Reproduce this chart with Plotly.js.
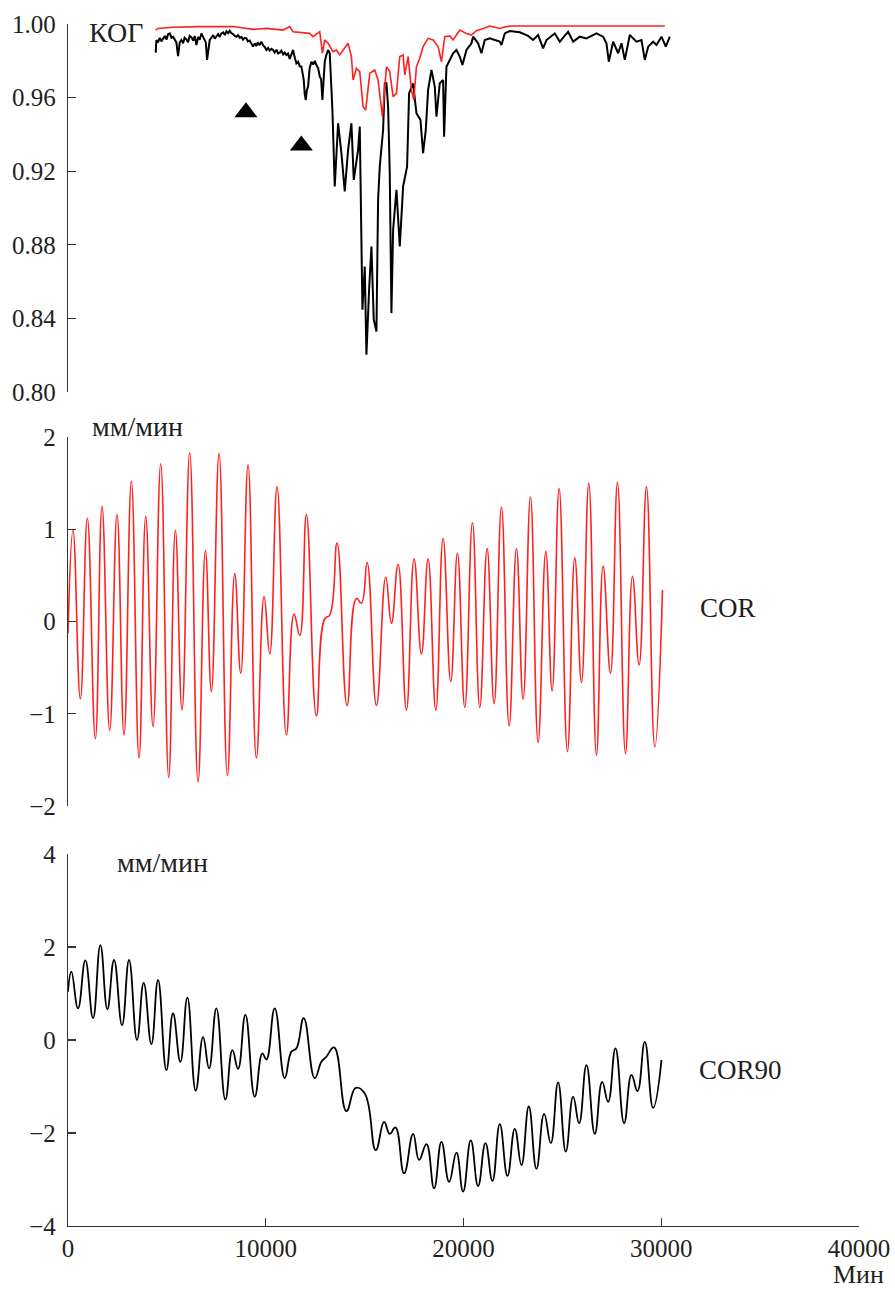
<!DOCTYPE html>
<html><head><meta charset="utf-8">
<script src="https://cdn.plot.ly/plotly-3.0.1.min.js"></script>
<style>html,body{margin:0;padding:0;background:#fff}#chart{width:895px;height:1290px}</style>
</head><body><div id="chart"></div>
<script>
// Top panel (КОГ): black curve
const kogBlackT = [4435,4469,4550,4640,4720,4806,4900,4980,5060,5144,5230,5312,5400,5480,5565,5650,5734,5820,5900,5987,6070,6150,6240,6330,6410,6492,6580,6660,6745,6830,6914,6970,7032,7100,7167,7250,7340,7420,7504,7590,7670,7757,7850,7930,8010,8100,8178,8260,8350,8430,8516,8600,8690,8770,8850,8940,9021,9100,9190,9270,9359,9440,9520,9600,9690,9780,9860,9950,10033,10120,10200,10290,10370,10450,10540,10620,10707,10790,10880,10960,11045,11130,11210,11300,11382,11460,11550,11640,11720,11803,11860,11921,11970,12022,12080,12141,12220,12309,12400,12480,12562,12650,12731,12800,12865,12930,12984,13060,13152,13236,13300,13371,13489,13658,13827,13995,14164,14332,14450,14670,14754,14889,15007,15091,15226,15344,15462,15597,15681,15765,15934,16018,16103,16187,16271,16356,16440,16609,16777,16946,17148,17249,17452,17620,17823,17957,18092,18210,18379,18548,18632,18800,18969,19019,19137,19306,19474,19643,19812,19946,20149,20402,20486,20739,20908,21076,21329,21582,21835,21919,22088,22341,22846,23268,23521,23774,24027,24195,24617,24870,25291,25544,25881,26218,26724,27061,27230,27348,27567,27820,27989,28157,28410,28747,29000,29169,29338,29590,29759,30012,30231,30433];
const kogBlackV = [0.9844,0.9913,0.9900,0.9925,0.9905,0.9922,0.9935,0.9915,0.9945,0.9949,0.9925,0.9931,0.9910,0.9900,0.9826,0.9900,0.9913,0.9895,0.9925,0.9917,0.9900,0.9935,0.9928,0.9910,0.9935,0.9886,0.9930,0.9915,0.9949,0.9930,0.9913,0.9900,0.9805,0.9880,0.9913,0.9925,0.9940,0.9920,0.9931,0.9945,0.9930,0.9949,0.9955,0.9940,0.9960,0.9950,0.9964,0.9950,0.9945,0.9935,0.9931,0.9940,0.9925,0.9930,0.9915,0.9925,0.9922,0.9905,0.9910,0.9890,0.9877,0.9895,0.9880,0.9900,0.9885,0.9904,0.9885,0.9875,0.9859,0.9870,0.9855,0.9865,0.9859,0.9845,0.9860,0.9840,0.9844,0.9855,0.9835,0.9845,0.9832,0.9840,0.9810,0.9835,0.9859,0.9820,0.9786,0.9795,0.9770,0.9768,0.9740,0.9696,0.9620,0.9587,0.9640,0.9660,0.9760,0.9795,0.9780,0.9800,0.9777,0.9760,0.9714,0.9700,0.9587,0.9720,0.9795,0.9830,0.9859,0.9841,0.9700,0.9533,0.9117,0.9461,0.9298,0.9090,0.9316,0.9461,0.9153,0.9316,0.9443,0.8447,0.8682,0.8203,0.8556,0.8791,0.8393,0.8329,0.9044,0.9225,0.9424,0.9678,0.9678,0.9551,0.9189,0.8429,0.8881,0.9099,0.8791,0.9117,0.9225,0.9624,0.9678,0.9515,0.9479,0.9298,0.9424,0.9642,0.9750,0.9660,0.9497,0.9678,0.9696,0.9388,0.9768,0.9805,0.9841,0.9859,0.9823,0.9777,0.9859,0.9895,0.9931,0.9895,0.9841,0.9913,0.9922,0.9913,0.9904,0.9886,0.9949,0.9962,0.9955,0.9935,0.9913,0.9940,0.9868,0.9913,0.9949,0.9904,0.9958,0.9904,0.9931,0.9922,0.9949,0.9931,0.9895,0.9795,0.9904,0.9841,0.9895,0.9805,0.9940,0.9904,0.9913,0.9805,0.9877,0.9904,0.9886,0.9931,0.9877,0.9931];
// Top panel (КОГ): red curve
const kogRedT = [4435,4553,5312,6661,8347,9359,10033,10876,11213,11382,12225,12393,12731,12865,12984,13152,13405,13574,13742,13995,14164,14332,14417,14585,14754,14923,15057,15260,15512,15681,15900,16103,16271,16440,16609,16777,16946,17030,17199,17367,17485,17620,17789,17957,18210,18463,18716,18885,19053,19306,19474,19812,20149,20402,20655,20992,21329,21835,22172,22425,30180];
const kogRedV = [0.9967,0.9976,0.9982,0.9986,0.9986,0.9971,0.9976,0.9967,0.9986,0.9958,0.9949,0.9931,0.9958,0.9841,0.9913,0.9895,0.9850,0.9859,0.9832,0.9868,0.9895,0.9823,0.9696,0.9759,0.9741,0.9551,0.9533,0.9732,0.9750,0.9696,0.9497,0.9768,0.9741,0.9605,0.9623,0.9823,0.9832,0.9723,0.9823,0.9642,0.9587,0.9768,0.9814,0.9877,0.9922,0.9913,0.9877,0.9795,0.9931,0.9935,0.9913,0.9967,0.9949,0.9940,0.9964,0.9976,0.9989,0.9976,0.9986,0.9989,0.9989];
// Triangle markers
const triT = [9000, 11800];
const triV = [0.952, 0.934];

// Middle panel COR (extrema)
const corT = [0,254,625,979,1384,1721,2109,2480,2834,3205,3592,3930,4301,4688,5093,5430,5767,6155,6577,6948,7251,7639,8060,8431,8735,9106,9527,9915,10202,10573,11045,11432,11719,12056,12562,12984,13236,13607,14113,14585,14838,15125,15597,16069,16356,16693,17114,17502,17873,18210,18598,18969,19356,19694,20065,20452,20823,21194,21548,21919,22307,22678,23015,23386,23774,24161,24482,24836,25257,25628,25966,26336,26724,27061,27432,27786,28191,28545,28882,29253,29675,30062];
const corV = [-0.13,0.99,-0.84,1.12,-1.27,1.25,-1.18,1.16,-1.23,1.52,-1.48,1.14,-1.14,1.71,-1.69,0.99,-0.96,1.83,-1.74,0.77,-0.76,1.82,-1.67,0.52,-0.56,1.70,-1.48,0.27,-0.35,1.46,-1.23,0.08,-0.15,1.16,-1.02,0.03,0.07,0.85,-0.91,0.25,0.20,0.64,-0.91,0.48,-0.02,0.62,-0.96,0.68,-0.35,0.68,-0.96,0.90,-0.65,0.74,-0.93,1.07,-0.93,0.79,-0.89,1.24,-1.13,0.79,-0.84,1.35,-1.31,0.76,-0.75,1.44,-1.41,0.69,-0.66,1.50,-1.45,0.60,-0.56,1.51,-1.43,0.49,-0.47,1.46,-1.36,0.34];

// Bottom panel COR90 (extrema)
const cor90T = [0,170,507,878,1266,1637,1991,2328,2733,3087,3491,3829,4216,4554,4975,5312,5683,6037,6459,6830,7133,7504,7959,8313,8600,8971,9443,9831,10033,10455,10960,11298,11550,11921,12478,12815,13068,13456,14079,14551,15007,15563,15985,16271,16558,16996,17452,17755,18126,18514,18885,19272,19643,19980,20368,20739,21110,21464,21835,22223,22594,22931,23302,23689,24077,24414,24785,25173,25544,25847,26218,26640,27011,27314,27685,28123,28495,28798,29169,29590,30012];
const cor90V = [1.04,1.47,0.68,1.71,0.47,2.04,0.66,1.72,0.32,1.72,0.0,1.23,-0.09,1.29,-0.65,0.57,-0.47,0.91,-1.09,0.06,-0.61,0.68,-1.28,-0.22,-0.62,0.54,-1.22,-0.29,-0.42,0.68,-0.82,-0.25,-0.18,0.47,-0.82,-0.47,-0.36,-0.16,-1.53,-1.03,-1.15,-2.37,-1.76,-2.02,-1.88,-2.87,-2.02,-2.58,-2.24,-3.19,-2.19,-3.05,-2.42,-3.26,-2.16,-3.14,-2.22,-3.03,-1.81,-2.92,-1.91,-2.69,-1.43,-2.77,-1.59,-2.22,-0.91,-2.40,-1.22,-1.79,-0.54,-2.02,-0.90,-1.33,-0.18,-1.79,-0.75,-1.10,-0.04,-1.46,-0.43];

// Tick labels
const xTickVals = [0,10000,20000,30000,40000];
const xTickText = ['0','10000','20000','30000','40000'];
const y1TickVals = [0.80,0.84,0.88,0.92,0.96,1.00];
const y1TickText = ['0.80','0.84','0.88','0.92','0.96','1.00'];
const y2TickVals = [-2,-1,0,1,2];
const y2TickText = ['\u22122','\u22121','0','1','2'];
const y3TickVals = [-4,-2,0,2,4];
const y3TickText = ['\u22124','\u22122','0','2','4'];

const FONT = '"Liberation Serif", "Times New Roman", serif';
const TXT = '#231f20';

const traces = [
  {x: kogBlackT, y: kogBlackV, xaxis:'x', yaxis:'y', mode:'lines', line:{color:'#000000', width:2}, hoverinfo:'skip'},
  {x: kogRedT, y: kogRedV, xaxis:'x', yaxis:'y', mode:'lines', line:{color:'#ff2020', width:1.6}, hoverinfo:'skip'},
  {x: triT, y: triV, xaxis:'x', yaxis:'y', mode:'markers', marker:{symbol:'triangle-up', size:20, color:'#000000'}, hoverinfo:'skip'},
  {x: corT, y: corV, xaxis:'x', yaxis:'y2', mode:'lines', line:{color:'#ff2020', width:1.6, shape:'spline', smoothing:1.3}, hoverinfo:'skip'},
  {x: cor90T, y: cor90V, xaxis:'x', yaxis:'y3', mode:'lines', line:{color:'#000000', width:1.8, shape:'spline', smoothing:1.3}, hoverinfo:'skip'}
];

function yax(domain, range, vals, text){
  return {domain: domain, range: range, tickvals: vals, ticktext: text, anchor:'x',
    showline:true, linecolor:'#333', linewidth:1.2, ticks:'inside', ticklen:8, tickcolor:'#333', tickwidth:1.2,
    showgrid:false, zeroline:false, ticklabelstandoff:6,
    tickfont:{family:FONT, size:25, color:TXT}};
}

const layout = {
  width:895, height:1290,
  margin:{l:68, r:36, t:24, b:64},
  paper_bgcolor:'#fff', plot_bgcolor:'#fff',
  font:{family:FONT, size:25, color:TXT},
  showlegend:false,
  xaxis:{domain:[0,1], range:[0,40000], anchor:'y3', tickvals:xTickVals, ticktext:xTickText,
    showline:true, linecolor:'#333', linewidth:1.2, ticks:'inside', ticklen:8, tickcolor:'#333', tickwidth:1.2,
    showgrid:false, zeroline:false, ticklabelstandoff:0,
    tickfont:{family:FONT, size:25, color:TXT}},
  yaxis: yax([0.6938,1], [0.80,1.00], y1TickVals, y1TickText),
  yaxis2: yax([0.3494,0.6564], [-2,2], y2TickVals, y2TickText),
  yaxis3: yax([0,0.3095], [-4,4], y3TickVals, y3TickText),
  annotations:[
    {text:'КОГ', xref:'paper', yref:'paper', x:0.0240, y:0.9933, xanchor:'left', yanchor:'middle', showarrow:false, font:{family:FONT, size:28, color:TXT}},
    {text:'мм/мин', xref:'paper', yref:'paper', x:0.0280, y:0.6650, xanchor:'left', yanchor:'middle', showarrow:false, font:{family:FONT, size:28, color:TXT}},
    {text:'мм/мин', xref:'paper', yref:'paper', x:0.0595, y:0.3020, xanchor:'left', yanchor:'middle', showarrow:false, font:{family:FONT, size:28, color:TXT}},
    {text:'COR', xref:'paper', yref:'paper', x:0.7960, y:0.5141, xanchor:'left', yanchor:'middle', showarrow:false, font:{family:FONT, size:27, color:TXT}},
    {text:'COR90', xref:'paper', yref:'paper', x:0.7950, y:0.1298, xanchor:'left', yanchor:'middle', showarrow:false, font:{family:FONT, size:27, color:TXT}},
    {text:'Мин', xref:'paper', yref:'paper', x:1.0330, y:-0.0532, xanchor:'right', yanchor:'bottom', borderpad:0, showarrow:false, font:{family:FONT, size:26, color:TXT}}
  ]
};

Plotly.newPlot('chart', traces, layout, {staticPlot:true, displayModeBar:false});
</script>
</body></html>
